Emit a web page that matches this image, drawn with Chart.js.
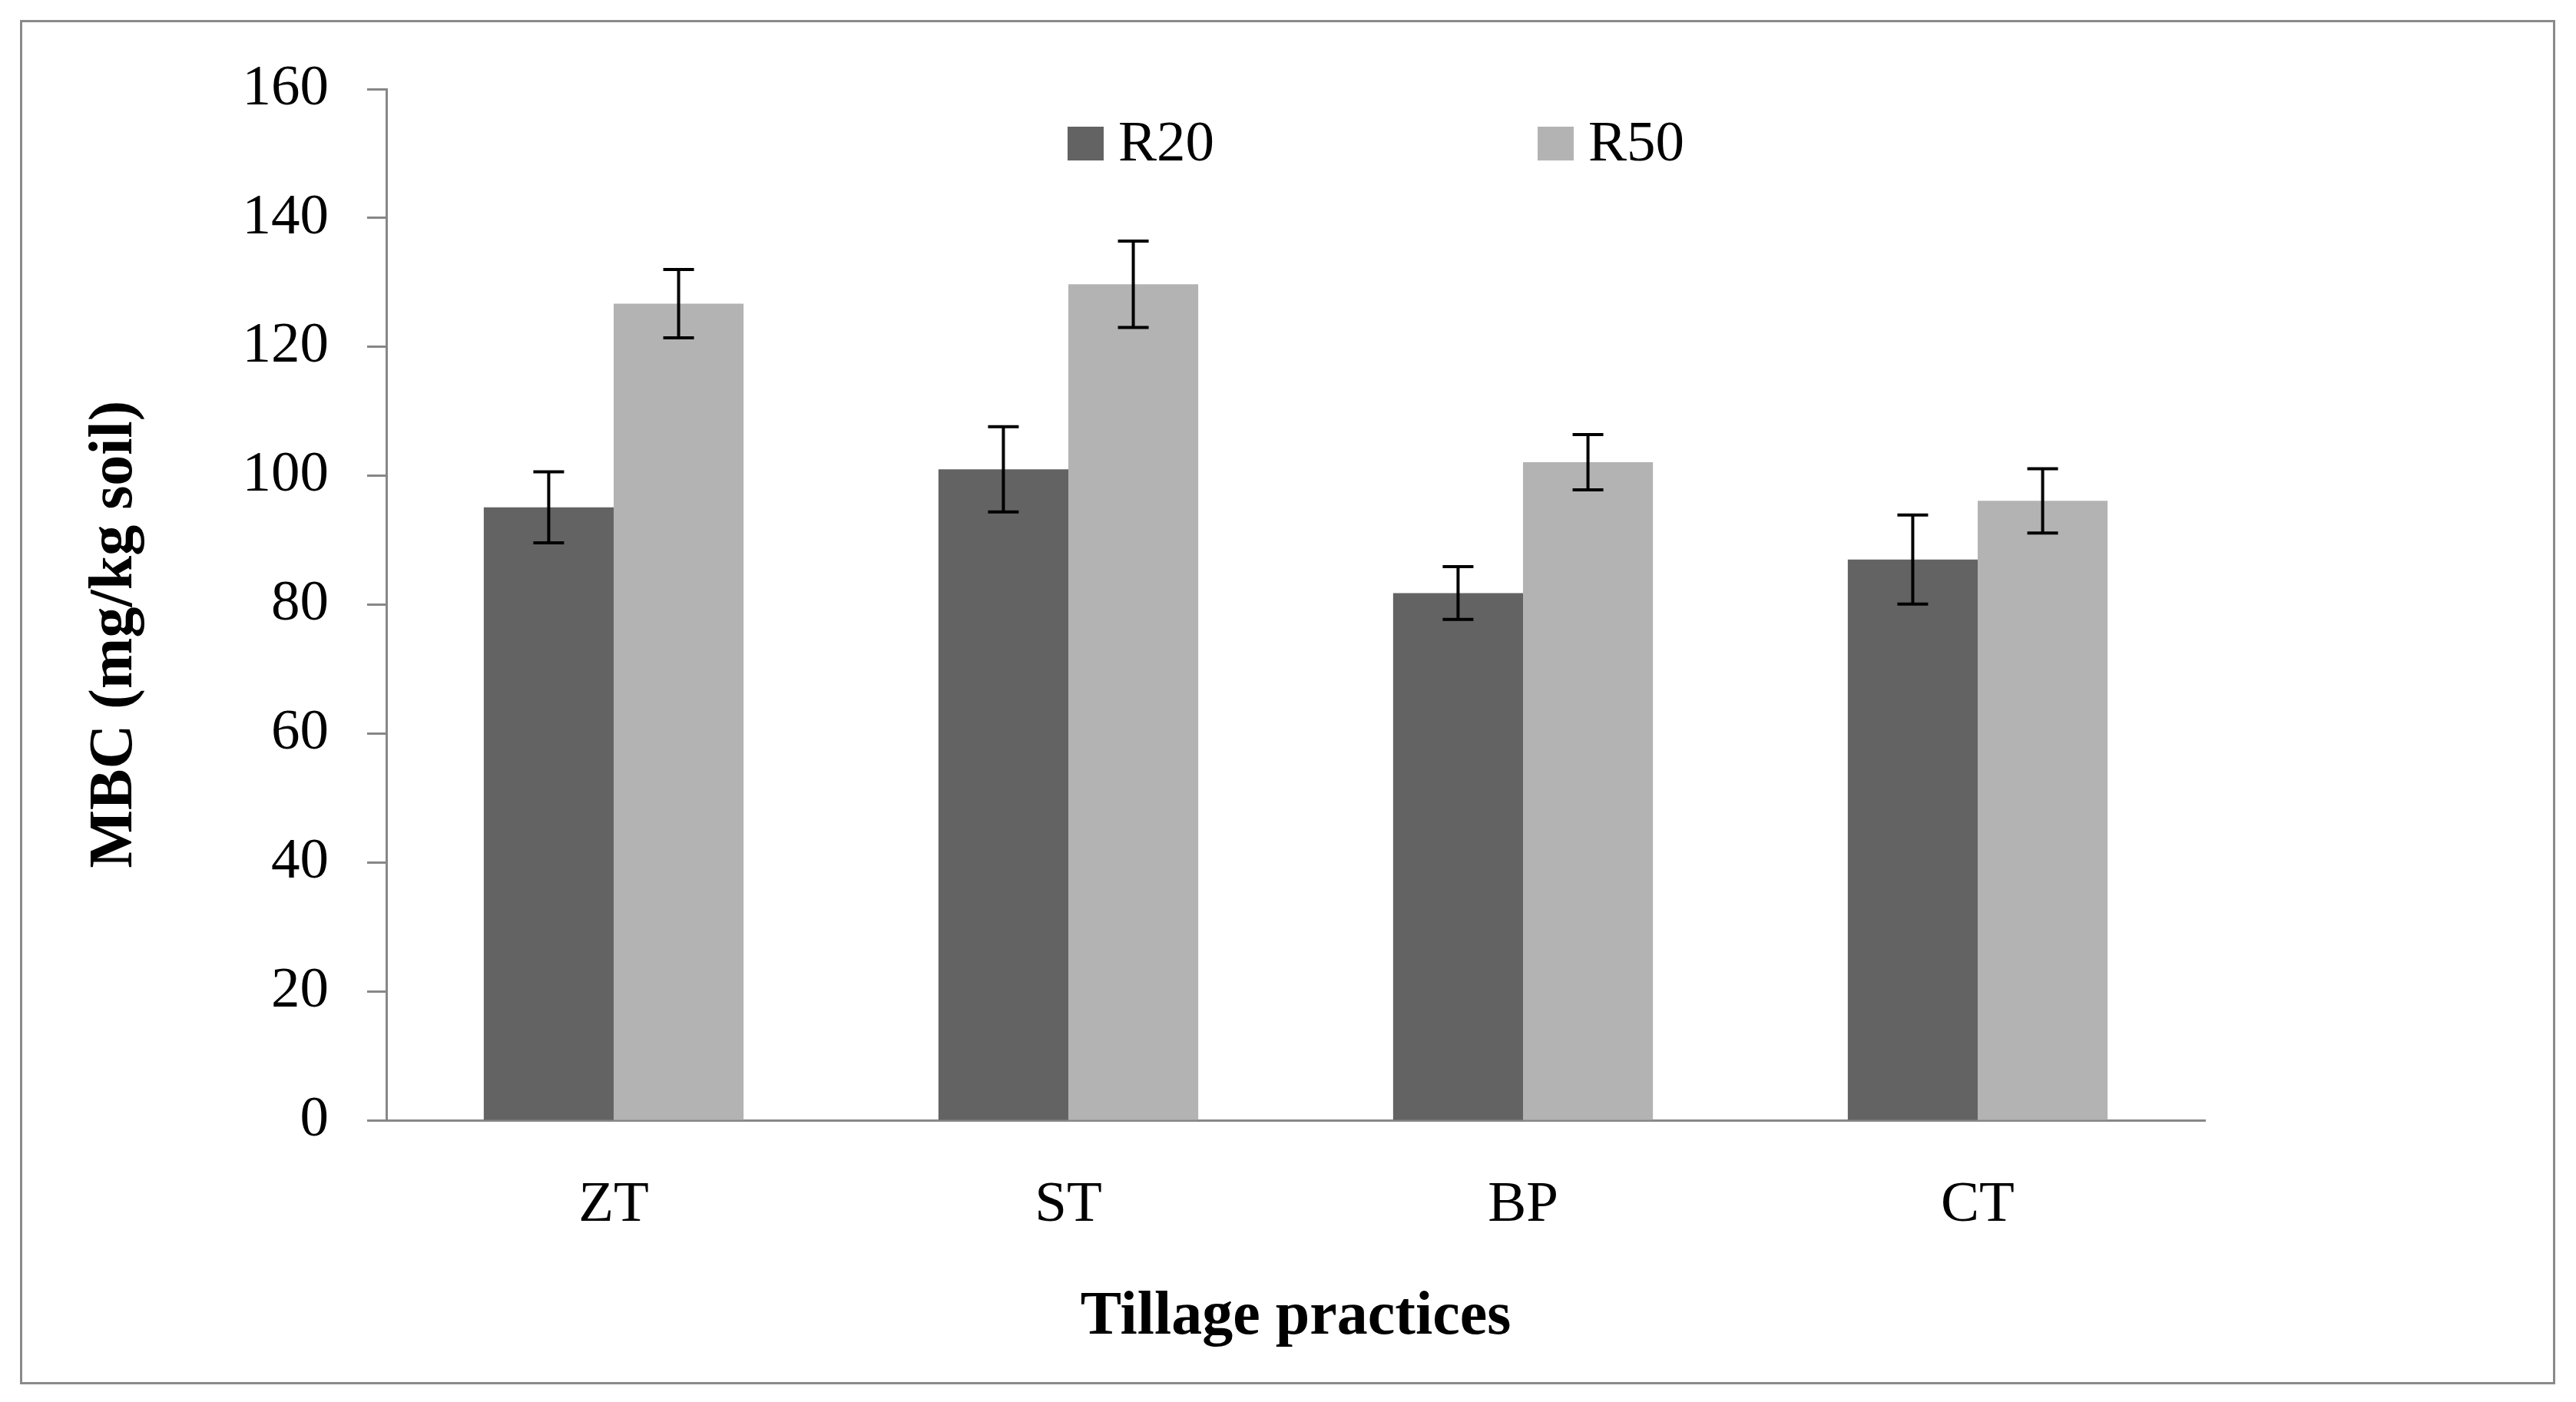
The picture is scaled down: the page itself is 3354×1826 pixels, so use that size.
<!DOCTYPE html>
<html>
<head>
<meta charset="utf-8">
<script src="https://cdn.jsdelivr.net/npm/chart.js@4.4.1/dist/chart.umd.min.js"></script>
<style>
  html, body { margin: 0; padding: 0; background: #ffffff; }
  canvas { display: block; }
</style>
</head>
<body>
<canvas id="c" width="3354" height="1826" style="width:3354px;height:1826px"></canvas>
<script>
// ---- data ----
const categories = ["ZT", "ST", "BP", "CT"];
const seriesNames = ["R20", "R50"];
const r20Values = [95.1, 101.0, 81.8, 87.0];
const r20Errors = [5.5, 6.6, 4.1, 6.9];
const r50Values = [126.7, 129.7, 102.1, 96.1];
const r50Errors = [5.3, 6.7, 4.3, 5.0];
const yTickMin = 0;
const yTickMax = 160;
const yTickStep = 20;
const xAxisTitle = "Tillage practices";
const yAxisTitle = "MBC (mg/kg soil)";

const FONT = "'Liberation Serif', 'Times New Roman', serif";
const AXIS_GREY = "#878787";

const errorArrays = [r20Errors, r50Errors];

const frame = {
  id: "frame",
  beforeDraw(chart) {
    const ctx = chart.ctx;
    ctx.save();
    ctx.fillStyle = "#ffffff";
    ctx.fillRect(0, 0, chart.width, chart.height);
    ctx.strokeStyle = "#8a8a8a";
    ctx.lineWidth = 3;
    ctx.strokeRect(27.5, 27.5, 3298, 1774);
    ctx.restore();
  }
};

const errorBars = {
  id: "errorBars",
  afterDatasetsDraw(chart) {
    const ctx = chart.ctx;
    const y = chart.scales.y;
    ctx.save();
    ctx.strokeStyle = "#000000";
    ctx.lineWidth = 4;
    chart.data.datasets.forEach((ds, i) => {
      const meta = chart.getDatasetMeta(i);
      const errs = errorArrays[i];
      meta.data.forEach((bar, j) => {
        const v = ds.data[j];
        const e = errs[j];
        const yt = y.getPixelForValue(v + e);
        const yb = y.getPixelForValue(v - e);
        const x = bar.x;
        const cap = 20;
        ctx.beginPath();
        ctx.moveTo(x, yt); ctx.lineTo(x, yb);
        ctx.moveTo(x - cap, yt); ctx.lineTo(x + cap, yt);
        ctx.moveTo(x - cap, yb); ctx.lineTo(x + cap, yb);
        ctx.stroke();
      });
    });
    ctx.restore();
  }
};

const customLegend = {
  id: "customLegend",
  afterDraw(chart) {
    const ctx = chart.ctx;
    const boxX = [1390, 2002];
    ctx.save();
    ctx.font = "75px " + FONT;
    ctx.textBaseline = "alphabetic";
    ctx.textAlign = "left";
    chart.data.datasets.forEach((ds, i) => {
      ctx.fillStyle = ds.backgroundColor;
      ctx.fillRect(boxX[i], 165, 47, 44);
      ctx.fillStyle = "#000000";
      ctx.fillText(ds.label, boxX[i] + 66, 209);
    });
    ctx.restore();
  }
};

const yTitle = {
  id: "yTitle",
  afterDraw(chart) {
    const ctx = chart.ctx;
    ctx.save();
    ctx.translate(150, 826);
    ctx.rotate(-Math.PI / 2);
    ctx.font = "bold 80px " + FONT;
    ctx.fillStyle = "#000000";
    ctx.textAlign = "center";
    ctx.textBaseline = "middle";
    ctx.fillText(yAxisTitle, 0, 0);
    ctx.restore();
  }
};

new Chart(document.getElementById("c"), {
  type: "bar",
  data: {
    labels: categories,
    datasets: [
      { label: seriesNames[0], data: r20Values, backgroundColor: "#636363", borderWidth: 0 },
      { label: seriesNames[1], data: r50Values, backgroundColor: "#b3b3b3", borderWidth: 0 }
    ]
  },
  options: {
    responsive: false,
    animation: false,
    devicePixelRatio: 1,
    categoryPercentage: 0.5714,
    barPercentage: 1.0,
    layout: { padding: { left: 0, top: 116, right: 483, bottom: 0 } },
    plugins: {
      legend: { display: false },
      tooltip: { enabled: false }
    },
    scales: {
      x: {
        grid: { display: false, drawTicks: false },
        border: { display: true, color: AXIS_GREY, width: 3 },
        ticks: { color: "#000000", font: { family: FONT, size: 75 }, padding: 66, maxRotation: 0 },
        title: {
          display: true,
          text: xAxisTitle,
          color: "#000000",
          font: { family: FONT, size: 80, weight: "bold" },
          padding: { top: 0, bottom: 62 }
        },
        afterFit(scale) { scale.height = 367; }
      },
      y: {
        min: yTickMin,
        max: yTickMax,
        grid: {
          display: true,
          drawOnChartArea: false,
          drawTicks: true,
          tickLength: 25,
          tickWidth: 3,
          tickColor: AXIS_GREY
        },
        border: { display: true, color: AXIS_GREY, width: 3 },
        ticks: { stepSize: yTickStep, color: "#000000", font: { family: FONT, size: 75 }, padding: 50 },
        afterFit(scale) { scale.width = 503; }
      }
    }
  },
  plugins: [frame, errorBars, customLegend, yTitle]
});
</script>
</body>
</html>
